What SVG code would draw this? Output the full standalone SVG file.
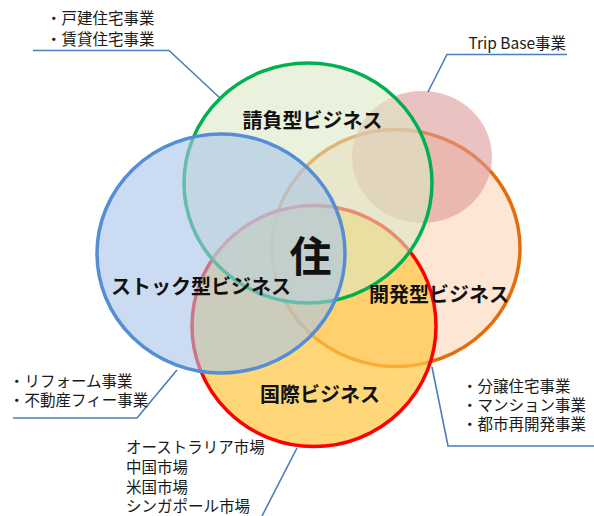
<svg xmlns="http://www.w3.org/2000/svg" width="594" height="516" viewBox="0 0 594 516">
<style>
.c{stroke-width:3.5}
.lbl{font-family:"Noto Sans CJK JP","Noto Sans",sans-serif;font-weight:bold;font-size:20px;fill:#111;text-anchor:middle;dominant-baseline:central}
.note{font-family:"Noto Sans CJK JP","Noto Sans",sans-serif;font-size:15.5px;fill:#1a1a1a;dominant-baseline:central}
.ld{fill:none;stroke:#4A7EBB;stroke-width:1.6}
</style>
<rect width="594" height="516" fill="#fff"/>
<g id="node-kaihatsu"><ellipse class="c" cx="396" cy="248" rx="124" ry="118.5" fill="#FCD5B8" fill-opacity="0.6" stroke="#E46C0A"/></g>
<g id="node-tripbase"><ellipse cx="422" cy="157" rx="70" ry="66" fill="#DE9A9A" fill-opacity="0.6"/></g>
<g id="node-kokusai"><ellipse class="c" cx="314" cy="326" rx="122" ry="120.5" fill="#FFC845" fill-opacity="0.72" stroke="#FF0000"/></g>
<g id="node-ukeoi"><ellipse class="c" cx="308" cy="183" rx="124" ry="120" fill="#DCE8C4" fill-opacity="0.6" stroke="#00B050"/></g>
<g id="node-stock"><ellipse class="c" cx="221" cy="253.5" rx="124" ry="119.5" fill="#A9C4EA" fill-opacity="0.6" stroke="#558ED5"/></g>
<g id="connectors">
<polyline class="ld" points="33,50.5 169,50.5 220,98"/>
<polyline class="ld" points="567,54.5 447,54.5 428,92"/>
<polyline class="ld" points="13,418 137,418 177,370"/>
<polyline class="ld" points="432,367 448,446 594,446"/>
<polyline class="ld" points="297,448 262,516"/>
</g>
<g id="labels">
<text class="lbl" x="312.5" y="119">請負型ビジネス</text>
<text class="lbl" x="201" y="285">ストック型ビジネス</text>
<text class="lbl" x="310.5" y="253" style="font-size:42px">住</text>
<text class="lbl" x="439" y="293">開発型ビジネス</text>
<text class="lbl" x="320" y="393">国際ビジネス</text>
</g>
<g id="notes">
<text class="note" x="46" y="17">・戸建住宅事業</text>
<text class="note" x="46" y="38">・賃貸住宅事業</text>
<text class="note" x="566" y="42" text-anchor="end">Trip Base事業</text>
<text class="note" x="9" y="380">・リフォーム事業</text>
<text class="note" x="9" y="399">・不動産フィー事業</text>
<text class="note" x="462" y="385">・分譲住宅事業</text>
<text class="note" x="462" y="404">・マンション事業</text>
<text class="note" x="462" y="423">・都市再開発事業</text>
<text class="note" x="126" y="446">オーストラリア市場</text>
<text class="note" x="126" y="466">中国市場</text>
<text class="note" x="126" y="485.5">米国市場</text>
<text class="note" x="126" y="505">シンガポール市場</text>
</g>
</svg>
